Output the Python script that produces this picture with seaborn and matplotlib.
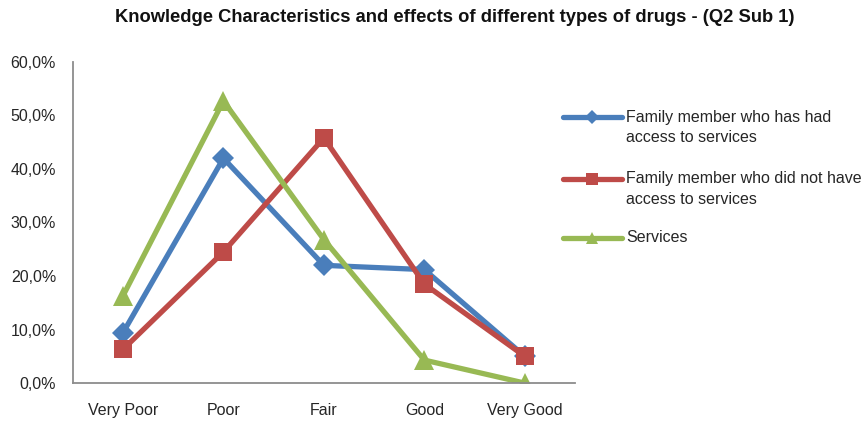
import matplotlib
matplotlib.use("Agg")
import matplotlib.pyplot as plt
from matplotlib.ticker import FuncFormatter
from matplotlib.lines import Line2D
import seaborn as sns
import pandas as pd

categories = ["Very Poor", "Poor", "Fair", "Good", "Very Good"]
series_names = [
    "Family member who has had\naccess to services",
    "Family member who did not have\naccess to services",
    "Services",
]
had_access = [9.4, 42.0, 22.0, 21.2, 5.0]
no_access = [6.3, 24.5, 45.8, 18.5, 5.0]
services = [16.3, 52.7, 26.8, 4.3, 0.0]

colors = ["#4A7EBB", "#BE4B48", "#98B954"]
markers = ["D", "s", "^"]
marker_sizes = [11, 13, 14]
line_w = 3.8

sns.set_theme(style="white")
plt.rcParams["font.family"] = ["Liberation Sans", "DejaVu Sans"]

rows = []
for name, vals in zip(series_names, [had_access, no_access, services]):
    for i, (cat, v) in enumerate(zip(categories, vals)):
        rows.append({"pos": i, "category": cat, "value": v, "series": name})
df = pd.DataFrame(rows)

W, H = 866, 421
fig = plt.figure(figsize=(W / 100, H / 100), dpi=100)
ax = fig.add_axes([0.084, 0.090, 0.580, 0.763])

for name, col, mk, ms in zip(series_names, colors, markers, marker_sizes):
    sub = df[df["series"] == name]
    sns.lineplot(data=sub, x="pos", y="value", ax=ax, color=col, linewidth=line_w,
                 marker=mk, markersize=ms, markeredgewidth=0,
                 legend=False, sort=False)

ax.set_xlim(-0.5, 4.5)
ax.set_ylim(0, 60)
ax.set_yticks(range(0, 61, 10))
ax.yaxis.set_major_formatter(FuncFormatter(lambda v, p: f"{v:.1f}%".replace(".", ",")))
ax.set_xticks(range(len(categories)))
ax.set_xticklabels(categories)
ax.set_xlabel("")
ax.set_ylabel("")
ax.tick_params(axis="both", labelsize=11.5, colors="#262626", length=0)
ax.tick_params(axis="y", pad=12)
ax.tick_params(axis="x", pad=14)
for side in ["top", "right"]:
    ax.spines[side].set_visible(False)
for side in ["left", "bottom"]:
    ax.spines[side].set_color("#8C8C8C")
    ax.spines[side].set_linewidth(1.3)

# Legend drawn by hand so each handle lines up with the first text line
legend_y = [117, 179, 238]
for name, col, mk, ms, yp in zip(series_names, colors, markers, marker_sizes, legend_y):
    yf = 1 - yp / H
    fig.add_artist(Line2D([563 / W, 622 / W], [yf, yf], color=col, linewidth=line_w,
                          transform=fig.transFigure))
    fig.add_artist(Line2D([592 / W], [yf], color=col, marker=mk, markersize=ms * 0.65,
                          markeredgewidth=0, transform=fig.transFigure))
    fig.text(626 / W, yf + 7.5 / H, name, ha="left", va="top", fontsize=11.5,
             color="#262626", linespacing=1.45)

fig.text(0.525, 1 - 18 / H,
         "Knowledge Characteristics and effects of different types of drugs - (Q2 Sub 1)",
         ha="center", va="center", fontsize=13.2, fontweight="bold", color="#111111")

fig.savefig("out.png", dpi=100)
